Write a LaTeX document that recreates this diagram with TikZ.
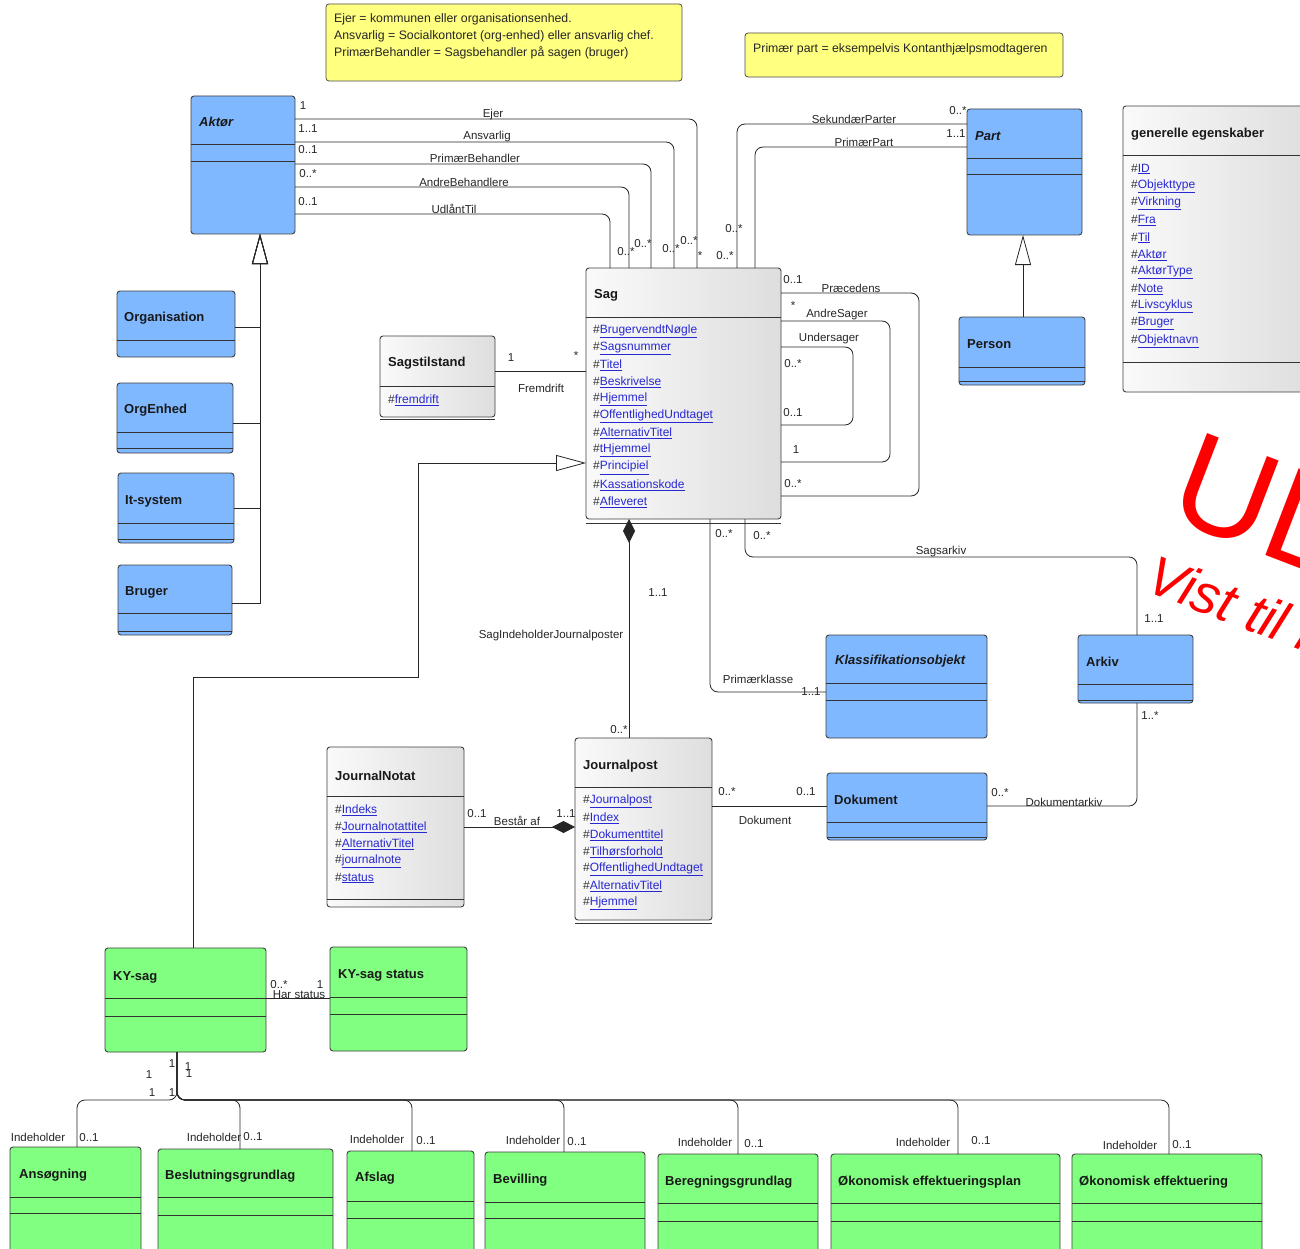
\documentclass[tikz,border=0pt]{standalone}
\usepackage{fontspec}
\setmainfont{Liberation Sans}
\usetikzlibrary{arrows.meta}
\definecolor{clsblue}{RGB}{128,184,255}
\definecolor{clsgreen}{RGB}{128,255,128}
\definecolor{noteyellow}{RGB}{255,255,128}
\definecolor{linkblue}{RGB}{40,40,210}
\definecolor{wmred}{RGB}{255,0,0}
\newcommand{\lnk}[1]{\textcolor{linkblue}{\underline{#1}}}
\newcommand{\umlbox}[6]{\node[#2, minimum width={#5-#3}, minimum height={#6-#4}, anchor=north west] (#1) at (#3,#4) {};}
\newcommand{\sepl}[3]{\draw[sepline] (#1,#3) -- (#2,#3);}
\begin{document}
\begin{tikzpicture}[x=1pt,y=-1pt,
  cls/.style={draw=black!75, line width=0.9pt, rounded corners=3pt, inner sep=0pt, outer sep=0pt},
  bcls/.style={cls, fill=clsblue},
  gcls/.style={cls, fill=clsgreen},
  wcls/.style={cls, left color=black!2, right color=black!13},
  note/.style={draw=black!70, line width=0.8pt, fill=noteyellow, rounded corners=3pt, inner sep=0pt, outer sep=0pt},
  sepline/.style={draw=black!80, line width=0.9pt},
  assoc/.style={draw=black!85, line width=0.8pt, rounded corners=8pt},
  plain/.style={draw=black!85, line width=0.8pt},
  genarr/.style={-{Triangle[open, length=30pt, width=16pt]}},
  cname/.style={anchor=west, inner sep=0pt, font=\fontsize{13}{15}\selectfont\bfseries, text=black!90},
  cnamei/.style={anchor=west, inner sep=0pt, font=\fontsize{13}{15}\selectfont\bfseries\itshape, text=black!90},
  attr/.style={anchor=west, inner sep=0pt, font=\fontsize{12}{14}\selectfont, text=black!80},
  lbl/.style={inner sep=0pt, font=\fontsize{11.5}{13}\selectfont, text=black!85},
  notetext/.style={anchor=west, inner sep=0pt, font=\fontsize{12.3}{14}\selectfont, text=black!85},
  wm/.style={inner sep=0pt, text=wmred, rotate=-21, anchor=base west}
]
\useasboundingbox (0,0) rectangle (1300,1249);
\fill[white] (0,0) rectangle (1300,1249);
\clip (0,0) rectangle (1300,1249);

% ---------- notes ----------
\umlbox{note1}{note}{326}{4}{682}{81}
\node[notetext] (n1a) at (334,19) {Ejer = kommunen eller organisationsenhed.};
\node[notetext] (n1b) at (334,36) {Ansvarlig = Socialkontoret (org-enhed) eller ansvarlig chef.};
\node[notetext] (n1c) at (334,53) {PrimærBehandler = Sagsbehandler på sagen (bruger)};
\umlbox{note2}{note}{745}{33}{1063}{77}
\node[notetext] (n2a) at (753,49) {Primær part = eksempelvis Kontanthjælpsmodtageren};

% ---------- blue classes ----------
\umlbox{aktor}{bcls}{191}{96}{295}{234} \sepl{191}{295}{144} \sepl{191}{295}{161}
\node[cnamei] (aktor-n) at (199,122) {Aktør};
\umlbox{org}{bcls}{117}{291}{235}{357} \sepl{117}{235}{340}
\node[cname] (org-n) at (124,318) {Organisation};
\umlbox{orgenh}{bcls}{117}{383}{233}{453} \sepl{117}{233}{432} \sepl{117}{233}{448}
\node[cname] (orgenh-n) at (124,410) {OrgEnhed};
\umlbox{itsys}{bcls}{118}{473}{234}{543} \sepl{118}{234}{523} \sepl{118}{234}{539}
\node[cname] (itsys-n) at (125,501) {It-system};
\umlbox{bruger}{bcls}{118}{565}{232}{635} \sepl{118}{232}{613} \sepl{118}{232}{631}
\node[cname] (bruger-n) at (125,592) {Bruger};
\umlbox{part}{bcls}{967}{109}{1082}{235} \sepl{967}{1082}{158} \sepl{967}{1082}{174}
\node[cnamei] (part-n) at (975,136) {Part};
\umlbox{person}{bcls}{959}{317}{1085}{385} \sepl{959}{1085}{367} \sepl{959}{1085}{381}
\node[cname] (person-n) at (967,344) {Person};
\umlbox{klass}{bcls}{826}{635}{987}{738} \sepl{826}{987}{683} \sepl{826}{987}{700}
\node[cnamei] (klass-n) at (835,661) {Klassifikationsobjekt};
\umlbox{arkiv}{bcls}{1078}{635}{1193}{703} \sepl{1078}{1193}{684} \sepl{1078}{1193}{700}
\node[cname] (arkiv-n) at (1086,662) {Arkiv};
\umlbox{dok}{bcls}{827}{773}{987}{840} \sepl{827}{987}{822} \sepl{827}{987}{837}
\node[cname] (dok-n) at (834,800) {Dokument};

% ---------- grey classes ----------
\umlbox{sag}{wcls}{586}{268}{781}{519} \sepl{586}{781}{317} \sepl{586}{781}{523}
\node[cname] (sag-n) at (594,295) {Sag};
\foreach \t [count=\i from 0] in {BrugervendtNøgle,Sagsnummer,Titel,Beskrivelse,Hjemmel,OffentlighedUndtaget,AlternativTitel,tHjemmel,Principiel,Kassationskode,Afleveret}
  \node[attr] (sag-a\i) at (593,331+17.1*\i) {\#\lnk{\t}};

\umlbox{gen}{wcls}{1123}{106}{1312}{392} \sepl{1123}{1312}{155} \sepl{1123}{1312}{362}
\node[cname] (gen-n) at (1131,134) {generelle egenskaber};
\foreach \t [count=\i from 0] in {ID,Objekttype,Virkning,Fra,Til,Aktør,AktørType,Note,Livscyklus,Bruger,Objektnavn}
  \node[attr] (gen-a\i) at (1131,169+17.2*\i) {\#\lnk{\t}};

\umlbox{stil}{wcls}{380}{336}{495}{417} \sepl{380}{495}{386} \sepl{380}{495}{419}
\node[cname] (stil-n) at (388,363) {Sagstilstand};
\node[attr] (stil-a0) at (388,400) {\#\lnk{fremdrift}};

\umlbox{jnotat}{wcls}{327}{747}{464}{907} \sepl{327}{464}{796} \sepl{327}{464}{899}
\node[cname] (jnotat-n) at (335,776) {JournalNotat};
\foreach \t [count=\i from 0] in {Indeks,Journalnotattitel,AlternativTitel,journalnote,status}
  \node[attr] (jnotat-a\i) at (335,810+17*\i) {\#\lnk{\t}};

\umlbox{jpost}{wcls}{575}{738}{712}{920} \sepl{575}{712}{787} \sepl{575}{712}{923}
\node[cname] (jpost-n) at (583,766) {Journalpost};
\foreach \t [count=\i from 0] in {Journalpost,Index,Dokumenttitel,Tilhørsforhold,OffentlighedUndtaget,AlternativTitel,Hjemmel}
  \node[attr] (jpost-a\i) at (583,801+17.1*\i) {\#\lnk{\t}};

% ---------- green classes ----------
\umlbox{kysag}{gcls}{105}{948}{266}{1052} \sepl{105}{266}{998} \sepl{105}{266}{1016}
\node[cname] (kysag-n) at (113,977) {KY-sag};
\umlbox{kystat}{gcls}{330}{947}{467}{1051} \sepl{330}{467}{997} \sepl{330}{467}{1014}
\node[cname] (kystat-n) at (338,975) {KY-sag status};

\umlbox{ans}{gcls}{10}{1147}{141}{1262} \sepl{10}{141}{1197} \sepl{10}{141}{1213}
\node[cname] (ans-n) at (19,1175) {Ansøgning};
\umlbox{besl}{gcls}{158}{1149}{333}{1262} \sepl{158}{333}{1197} \sepl{158}{333}{1215}
\node[cname] (besl-n) at (165,1176) {Beslutningsgrundlag};
\umlbox{afslag}{gcls}{347}{1151}{474}{1262} \sepl{347}{474}{1201} \sepl{347}{474}{1218}
\node[cname] (afslag-n) at (355,1178) {Afslag};
\umlbox{bev}{gcls}{485}{1152}{645}{1262} \sepl{485}{645}{1202} \sepl{485}{645}{1218}
\node[cname] (bev-n) at (493,1180) {Bevilling};
\umlbox{bereg}{gcls}{658}{1154}{818}{1262} \sepl{658}{818}{1203} \sepl{658}{818}{1221}
\node[cname] (bereg-n) at (665,1182) {Beregningsgrundlag};
\umlbox{okplan}{gcls}{831}{1154}{1060}{1262} \sepl{831}{1060}{1203} \sepl{831}{1060}{1221}
\node[cname] (okplan-n) at (838,1182) {Økonomisk effektueringsplan};
\umlbox{okeff}{gcls}{1072}{1154}{1262}{1262} \sepl{1072}{1262}{1203} \sepl{1072}{1262}{1221}
\node[cname] (okeff-n) at (1079,1182) {Økonomisk effektuering};

% ---------- Aktør -> Sag associations ----------
\draw[assoc] (aktor.east |- 0,119) -- (697,119) -- (sag.north -| 697,0);
\draw[assoc] (aktor.east |- 0,142) -- (674,142) -- (sag.north -| 674,0);
\draw[assoc] (aktor.east |- 0,164) -- (651,164) -- (sag.north -| 651,0);
\draw[assoc] (aktor.east |- 0,187) -- (629,187) -- (sag.north -| 629,0);
\draw[assoc] (aktor.east |- 0,214) -- (610,214) -- (sag.north -| 610,0);
\node[lbl] (l-ejer) at (493,115) {Ejer};
\node[lbl] (l-ansv) at (487,137) {Ansvarlig};
\node[lbl] (l-primb) at (475,158) {PrimærBehandler};
\node[lbl] (l-andreb) at (464,182) {AndreBehandlere};
\node[lbl] (l-udl) at (454,209) {UdlåntTil};
\node[lbl] (m1) at (303,106) {1};
\node[lbl] (m2) at (308,129) {1..1};
\node[lbl] (m3) at (308,150) {0..1};
\node[lbl] (m4) at (308,174) {0..*};
\node[lbl] (m5) at (308,202) {0..1};
\node[lbl] (m6) at (626,252) {0..*};
\node[lbl] (m7) at (643,244) {0..*};
\node[lbl] (m8) at (671,249) {0..*};
\node[lbl] (m9) at (689,241) {0..*};
\node[lbl] (m10) at (700,256) {*};

% ---------- Part -> Sag ----------
\draw[assoc] (part.west |- 0,124) -- (737,124) -- (sag.north -| 737,0);
\draw[assoc] (part.west |- 0,147) -- (755,147) -- (sag.north -| 755,0);
\node[lbl] (l-sek) at (854,119) {SekundærParter};
\node[lbl] (l-primp) at (864,142) {PrimærPart};
\node[lbl] (m11) at (958,111) {0..*};
\node[lbl] (m12) at (956,134) {1..1};
\node[lbl] (m13) at (734,229) {0..*};
\node[lbl] (m14) at (725,256) {0..*};

% ---------- Sag self associations ----------
\draw[assoc] (sag.east |- 0,293) -- (919,293) -- (919,496) -- (sag.east |- 0,496);
\draw[assoc] (sag.east |- 0,321) -- (890,321) -- (890,462) -- (sag.east |- 0,462);
\draw[assoc] (sag.east |- 0,347) -- (853,347) -- (853,425) -- (sag.east |- 0,425);
\node[lbl] (l-prec) at (851,288) {Præcedens};
\node[lbl] (l-andres) at (837,315) {AndreSager};
\node[lbl] (l-unders) at (829,339) {Undersager};
\node[lbl] (m15) at (793,280) {0..1};
\node[lbl] (m16) at (793,306) {*};
\node[lbl] (m17) at (793,364) {0..*};
\node[lbl] (m18) at (793,413) {0..1};
\node[lbl] (m19) at (796,450) {1};
\node[lbl] (m20) at (793,484) {0..*};

% ---------- Sagstilstand ----------
\draw[plain] (stil.east |- 0,371) -- (sag.west |- 0,371);
\node[lbl] (l-frem) at (541,388) {Fremdrift};
\node[lbl] (m21) at (511,358) {1};
\node[lbl] (m22) at (576,356) {*};

% ---------- generalizations ----------
\foreach \c/\yy in {org/327,orgenh/423,itsys/508,bruger/603}
  \draw[plain,genarr] (\c.east |- 0,\yy) -- (260,\yy) -- (aktor.south -| 260,0);
\draw[plain,genarr] (person.north -| 1023,0) -- (part.south -| 1023,0);
\draw[plain,genarr] (kysag.north -| 193,0) -- (193,677) -- (418,677) -- (418,463) -- (sag.west |- 0,463);

% ---------- Sag -> Journalpost composition ----------
\draw[plain,{Diamond[length=24pt,width=12pt]}-] (sag.south -| 629,0) -- (jpost.north -| 629,0);
\node[lbl] (l-sagind) at (551,636) {SagIndeholderJournalposter};
\node[lbl] (m23) at (658,593) {1..1};
\node[lbl] (m24) at (619,730) {0..*};

% ---------- Primærklasse, Sagsarkiv ----------
\draw[assoc] (sag.south -| 710,0) -- (710,692) -- (klass.west |- 0,692);
\node[lbl] (l-primk) at (758,679) {Primærklasse};
\node[lbl] (m25) at (724,534) {0..*};
\node[lbl] (m26) at (811,692) {1..1};
\draw[assoc] (sag.south -| 745,0) -- (745,557) -- (1137,557) -- (arkiv.north -| 1137,0);
\node[lbl] (l-sagsark) at (941,552) {Sagsarkiv};
\node[lbl] (m27) at (762,536) {0..*};
\node[lbl] (m28) at (1154,619) {1..1};

% ---------- Arkiv - Dokument ----------
\draw[assoc] (arkiv.south -| 1137,0) -- (1137,806) -- (dok.east |- 0,806);
\node[lbl] (l-dokark) at (1064,802) {Dokumentarkiv};
\node[lbl] (m29) at (1150,716) {1..*};
\node[lbl] (m30) at (1000,793) {0..*};

% ---------- Journalpost - Dokument ----------
\draw[plain] (jpost.east |- 0,806) -- (dok.west |- 0,806);
\node[lbl] (l-dok) at (765,820) {Dokument};
\node[lbl] (m31) at (727,792) {0..*};
\node[lbl] (m32) at (806,792) {0..1};

% ---------- JournalNotat - Journalpost ----------
\draw[plain,-{Diamond[length=23pt,width=12pt]}] (jnotat.east |- 0,827) -- (jpost.west |- 0,827);
\node[lbl] (l-best) at (517,821) {Består af};
\node[lbl] (m33) at (477,814) {0..1};
\node[lbl] (m34) at (566,814) {1..1};

% ---------- KY-sag status ----------
\draw[plain] (kysag.east |- 0,998) -- (kystat.west |- 0,998);
\node[lbl] (l-har) at (299,995) {Har status};
\node[lbl] (m35) at (279,985) {0..*};
\node[lbl] (m36) at (320,985) {1};

% ---------- KY-sag children ----------
\foreach \c/\cx in {ans/77,besl/240,afslag/412,bev/564,bereg/738,okplan/958,okeff/1169}
  \draw[assoc] (kysag.south -| 177,0) -- (177,1100) -- (\cx,1100) -- (\c.north -| \cx,0);
\node[lbl] (m37) at (149,1075) {1};
\node[lbl] (m38) at (172,1064) {1};
\node[lbl] (m39) at (188,1067) {1};
\node[lbl] (m40) at (189,1074) {1};
\node[lbl] (m41) at (152,1093) {1};
\node[lbl] (m42) at (172,1093) {1};
\foreach \k/\ix/\iy/\mx/\my in {1/38/1137/89/1138, 2/214/1137/253/1137, 3/377/1139/426/1141, 4/533/1140/577/1142, 5/705/1142/754/1144, 6/923/1142/981/1141, 7/1130/1145/1182/1145}{
  \node[lbl] (ih\k) at (\ix,\iy) {Indeholder};
  \node[lbl] (im\k) at (\mx,\my) {0..1};
}

% ---------- watermark ----------
\node[wm, font=\fontsize{135}{135}\selectfont] (wm1) at (1164,516) {UD};
\node[wm, font=\fontsize{55}{55}\selectfont\itshape] (wm2) at (1143,590) {Vist til h};
\end{tikzpicture}
\end{document}
